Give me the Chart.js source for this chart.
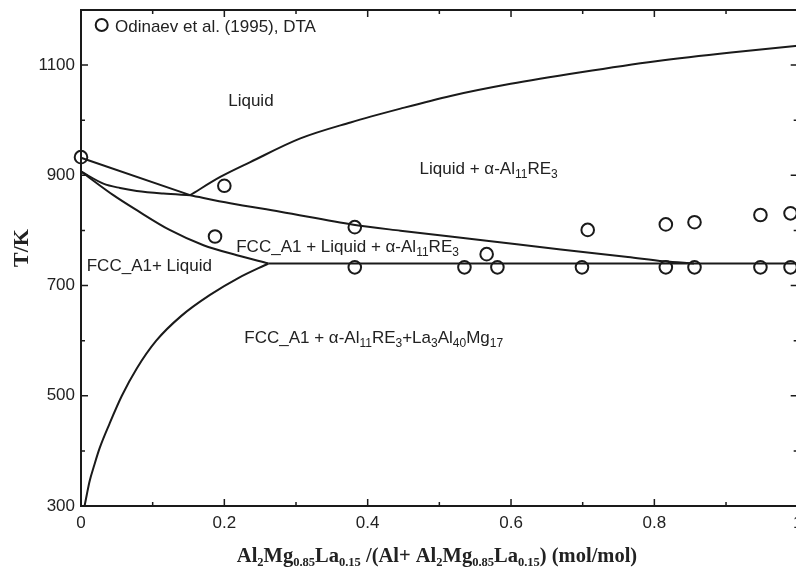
<!DOCTYPE html>
<html><head><meta charset="utf-8">
<script src="https://cdn.jsdelivr.net/npm/chart.js@4.4.1/dist/chart.umd.min.js"></script>
<style>
html,body{margin:0;padding:0;overflow:hidden;background:#fff;width:796px;height:569px}
canvas{display:block}
</style>
</head><body>
<canvas id="c" width="806" height="569" style="width:806px;height:569px"></canvas>
<script>
// ---------- tick labels ----------
const xTickLabels = [0, 0.2, 0.4, 0.6, 0.8, 1];
const yTickLabels = [300, 500, 700, 900, 1100];

// ---------- calculated phase boundaries (x = mole fraction, T in K) ----------
// FCC liquidus to the invariant point, straight part
const liqFccUpper_x = [0, 0.1523];
const liqFccUpper_T = [932, 864];
// L+alpha / FCC+L+alpha boundary down to the eutectic line
const threePhase_x = [0.1523, 0.2082, 0.2781, 0.3801, 0.4458, 0.5660, 0.6694, 0.7631, 0.8134, 0.8553];
const threePhase_T = [864, 849.4, 834.0, 810.4, 799.5, 781.3, 765.3, 751.9, 744.1, 740];
// alpha-Al11RE3 liquidus
const liqAlpha_x = [0.1523, 0.1943, 0.2362, 0.3061, 0.3760, 0.4458, 0.5157, 0.5996, 0.6974, 0.8022, 0.9071, 1.0];
const liqAlpha_T = [864, 897, 924, 967, 996, 1021, 1044, 1066, 1087, 1107, 1123, 1135];
// concave curve from 907 K to invariant point
const concave_x = [0, 0.0312, 0.0545, 0.0778, 0.1150, 0.1523];
const concave_T = [907, 885, 877, 871.7, 867, 864];
// FCC + liquid lower boundary down to eutectic
const fccLiq_x = [0, 0.0451, 0.0778, 0.1244, 0.1709, 0.2176, 0.2614];
const fccLiq_T = [907, 864, 836.7, 800.4, 773.1, 755, 740];
// solvus
const solvus_x = [0.005, 0.008, 0.012, 0.018, 0.026, 0.040, 0.057, 0.078, 0.105, 0.140, 0.180, 0.220, 0.2614];
const solvus_T = [300, 320, 345, 372, 405, 450, 500, 550, 600, 645, 683, 714, 740];
// eutectic (invariant) line
const eutectic_x = [0.2614, 1.0];
const eutectic_T = [740, 740];

// ---------- experimental points: Odinaev et al. (1995), DTA ----------
const dta_x = [0, 0.200, 0.187, 0.382, 0.382, 0.535, 0.581, 0.566, 0.699, 0.707, 0.816, 0.816, 0.856, 0.856, 0.948, 0.948, 0.990, 0.990];
const dta_T = [933, 881, 789, 806, 733, 733, 733, 757, 733, 801, 733, 811, 733, 815, 733, 828, 733, 831];
const dtaLabel = 'Odinaev et al. (1995), DTA';

// ---------- texts ----------
const regionTexts = [
  {segs: [['Liquid', 0]], x: 0.2054, T: 1025.6},
  {segs: [['Liquid + α-Al', 0], ['11', 1], ['RE', 0], ['3', 1]], x: 0.4724, T: 903.3},
  {segs: [['FCC_A1 + Liquid + α-Al', 0], ['11', 1], ['RE', 0], ['3', 1]], x: 0.2166, T: 761},
  {segs: [['FCC_A1+ Liquid', 0]], x: 0.0080, T: 726.5},
  {segs: [['FCC_A1 + α-Al', 0], ['11', 1], ['RE', 0], ['3', 1], ['+La', 0], ['3', 1], ['Al', 0], ['40', 1], ['Mg', 0], ['17', 1]], x: 0.2278, T: 595.7}
];
const xTitleSegs = [['Al', 0], ['2', 1], ['Mg', 0], ['0.85', 1], ['La', 0], ['0.15', 1], [' /(Al+ Al', 0], ['2', 1], ['Mg', 0], ['0.85', 1], ['La', 0], ['0.15', 1], [') (mol/mol)', 0]];
const yTitle = 'T/K';

const SANS = '"Liberation Sans", Arial, Helvetica, sans-serif';
const SERIF = '"Liberation Serif", "Times New Roman", Times, serif';
const INK = '#1a1a1a';

function pts(xs, ts) { return xs.map((x, i) => ({x: x, y: ts[i]})); }
function curve(xs, ts, smooth) {
  return {data: pts(xs, ts), showLine: true, borderColor: INK, borderWidth: 2,
    pointRadius: 0, cubicInterpolationMode: smooth ? 'monotone' : 'default', tension: 0, fill: false, clip: false};
}

function richWidth(ctx, segs, font, subFont) {
  let w = 0;
  for (const [t, s] of segs) { ctx.font = s ? subFont : font; w += ctx.measureText(t).width; }
  return w;
}
function drawRich(ctx, segs, x, y, font, subFont, subDy) {
  let cx = x;
  for (const [t, s] of segs) {
    ctx.font = s ? subFont : font;
    ctx.fillText(t, cx, s ? y + subDy : y);
    cx += ctx.measureText(t).width;
  }
}

const decor = {
  id: 'decor',
  afterDraw(chart) {
    const ctx = chart.ctx, a = chart.chartArea;
    const xs = chart.scales.x, ys = chart.scales.y;
    ctx.save();
    // frame
    ctx.strokeStyle = INK; ctx.lineWidth = 2;
    ctx.strokeRect(a.left, a.top, a.right - a.left, a.bottom - a.top);
    // inward ticks
    ctx.lineWidth = 1.5;
    const isX = v => xTickLabels.some(l => Math.abs(l - v) < 1e-6);
    const isY = v => yTickLabels.some(l => Math.abs(l - v) < 1e-6);
    xs.ticks.forEach(t => {
      const p = xs.getPixelForValue(t.value);
      const L = isX(t.value) ? 7 : 4;
      ctx.beginPath();
      ctx.moveTo(p, a.bottom); ctx.lineTo(p, a.bottom - L);
      ctx.moveTo(p, a.top); ctx.lineTo(p, a.top + L);
      ctx.stroke();
    });
    ys.ticks.forEach(t => {
      const p = ys.getPixelForValue(t.value);
      const L = isY(t.value) ? 7 : 4;
      ctx.beginPath();
      ctx.moveTo(a.left, p); ctx.lineTo(a.left + L, p);
      ctx.moveTo(a.right, p); ctx.lineTo(a.right - L, p);
      ctx.stroke();
    });
    // region labels
    ctx.fillStyle = '#222';
    ctx.textBaseline = 'alphabetic'; ctx.textAlign = 'left';
    for (const r of regionTexts) {
      drawRich(ctx, r.segs, xs.getPixelForValue(r.x), ys.getPixelForValue(r.T),
        '17px ' + SANS, '12px ' + SANS, 4);
    }
    // legend
    const lx = a.left + 20.7, ly = a.top + 15;
    ctx.strokeStyle = INK; ctx.lineWidth = 2;
    ctx.beginPath(); ctx.arc(lx, ly, 6, 0, Math.PI * 2); ctx.stroke();
    ctx.font = '17px ' + SANS;
    ctx.fillText(dtaLabel, a.left + 34, a.top + 21.5);
    // x title
    const f = 'bold 20.5px ' + SERIF, sf = 'bold 12.5px ' + SERIF;
    const w = richWidth(ctx, xTitleSegs, f, sf);
    drawRich(ctx, xTitleSegs, 437 - w / 2, 561.7, f, sf, 4);
    // y title
    ctx.save();
    ctx.translate(28, 248);
    ctx.rotate(-Math.PI / 2);
    ctx.font = 'bold 22px ' + SERIF;
    ctx.textAlign = 'center';
    ctx.fillText(yTitle, 0, 0);
    ctx.restore();
    ctx.restore();
  }
};

new Chart(document.getElementById('c'), {
  type: 'scatter',
  data: {
    datasets: [
      curve(liqFccUpper_x, liqFccUpper_T, false),
      curve(threePhase_x, threePhase_T, true),
      curve(liqAlpha_x, liqAlpha_T, true),
      curve(concave_x, concave_T, true),
      curve(fccLiq_x, fccLiq_T, true),
      curve(solvus_x, solvus_T, true),
      curve(eutectic_x, eutectic_T, false),
      {label: dtaLabel, data: pts(dta_x, dta_T), showLine: false, pointStyle: 'circle',
       pointRadius: 6.3, borderWidth: 2, borderColor: INK, backgroundColor: 'rgba(0,0,0,0)', clip: false}
    ]
  },
  options: {
    responsive: false, animation: false, events: [],
    layout: {padding: {left: 0, right: 3, top: 10, bottom: 0}},
    plugins: {legend: {display: false}, tooltip: {enabled: false}},
    scales: {
      x: {
        type: 'linear', min: 0, max: 1,
        afterFit(s) { s.height = 63; s.paddingLeft = 0; s.paddingRight = 0; },
        grid: {display: false, drawTicks: false}, border: {display: false},
        ticks: {
          stepSize: 0.1, autoSkip: false, maxRotation: 0, padding: 7, color: '#222',
          font: {family: SANS, size: 17},
          callback(v) { const l = xTickLabels.find(k => Math.abs(k - v) < 1e-6); return l === undefined ? '' : String(l); }
        }
      },
      y: {
        type: 'linear', min: 300, max: 1200,
        afterFit(s) { s.width = 81; s.paddingTop = 0; s.paddingBottom = 0; },
        grid: {display: false, drawTicks: false}, border: {display: false},
        ticks: {
          stepSize: 100, autoSkip: false, padding: 6, color: '#222',
          font: {family: SANS, size: 17},
          callback(v) { const l = yTickLabels.find(k => Math.abs(k - v) < 1e-6); return l === undefined ? '' : String(l); }
        }
      }
    }
  },
  plugins: [decor]
});
</script>
</body></html>
